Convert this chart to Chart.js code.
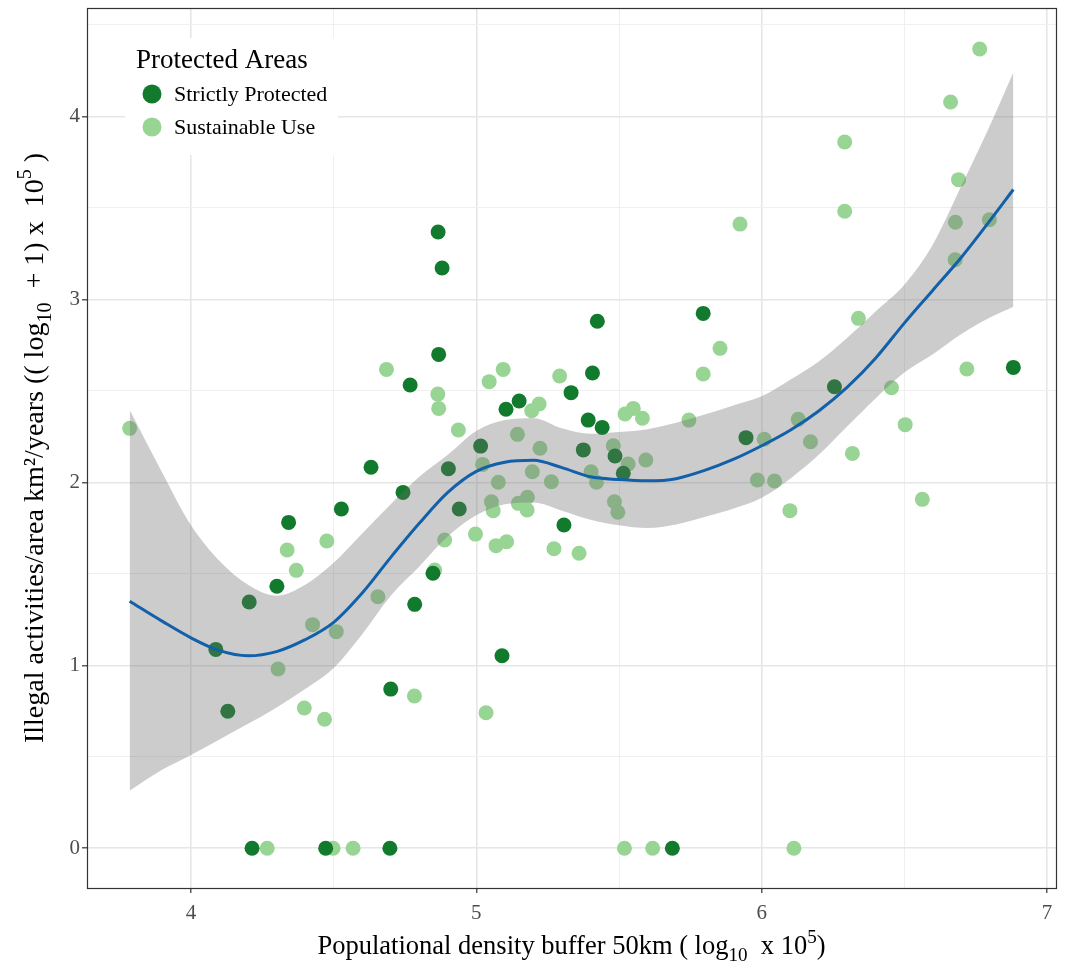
<!DOCTYPE html>
<html>
<head>
<meta charset="utf-8">
<title>Illegal activities vs populational density</title>
<script src="https://cdn.jsdelivr.net/npm/chart.js@4.4.1/dist/chart.umd.min.js"></script>
<style>
  html, body { margin: 0; padding: 0; background: #fff; }
  #wrap { width: 1068px; height: 962px; position: relative; }
</style>
</head>
<body>
<div id="wrap"><canvas id="chart"></canvas></div>
<script>
// --- données ---

// Strictly Protected
const strictX = [4.866, 4.880, 4.868, 4.768, 4.631, 4.743, 4.902, 4.527, 4.342, 4.301,
                 4.204, 4.848, 4.784, 4.087, 4.129, 4.700, 4.214, 4.472, 4.697, 5.795,
                 5.424, 5.407, 5.332, 5.150, 5.104, 5.392, 5.441, 5.015, 5.375, 5.486,
                 5.515, 5.945, 4.940, 5.307, 5.090, 5.687, 6.882, 6.255];
const strictY = [3.368, 3.171, 2.699, 2.532, 2.082, 1.945, 2.074, 1.854, 1.781, 1.432,
                 1.346, 1.503, 1.333, 1.087, 0.749, 0.870, 0, 0, 0, 2.923,
                 2.880, 2.597, 2.490, 2.444, 2.399, 2.340, 2.300, 2.198, 2.177, 2.144,
                 2.049, 2.244, 1.854, 1.767, 1.052, 0, 2.628, 2.522];

// Sustainable Use
const sustX = [3.785, 4.685, 4.865, 4.868, 4.476, 4.337, 4.369, 4.655, 4.854, 4.889,
               4.305, 4.426, 4.509, 4.783, 4.397, 4.468, 4.267, 4.498, 4.568, 5.924,
               5.854, 5.795, 5.292, 5.094, 5.045, 5.194, 5.220, 5.521, 5.550, 5.582,
               5.745, 4.937, 5.144, 5.223, 5.480, 5.532, 5.594, 5.022, 5.077, 5.196,
               5.263, 5.402, 5.421, 5.053, 5.059, 5.147, 5.179, 5.178, 5.484, 5.496,
               4.997, 5.069, 5.106, 5.272, 5.360, 5.034, 5.519, 5.618, 6.764, 6.662,
               6.291, 6.291, 6.690, 6.679, 6.798, 6.678, 6.339, 6.719, 6.455, 6.503,
               6.318, 6.128, 6.171, 6.009, 5.985, 6.045, 6.099, 6.563, 6.113];
const sustY = [2.295, 2.617, 2.482, 2.404, 1.679, 1.630, 1.519, 1.375, 1.521, 1.685,
               0.980, 1.222, 1.184, 0.832, 0.767, 0.705, 0, 0, 0, 3.411,
               2.732, 2.592, 2.581, 2.617, 2.550, 2.391, 2.428, 2.373, 2.404, 2.350,
               2.340, 2.286, 2.262, 2.186, 2.200, 2.100, 2.122, 2.098, 2.000, 2.058,
               2.003, 2.058, 2.000, 1.894, 1.845, 1.885, 1.918, 1.849, 1.894, 1.836,
               1.717, 1.654, 1.675, 1.637, 1.612, 0.741, 0, 0, 4.368, 4.078,
               3.860, 3.481, 3.654, 3.421, 3.435, 3.216, 2.896, 2.619, 2.517, 2.315,
               2.158, 2.344, 2.222, 2.235, 2.013, 2.007, 1.845, 1.907, 0];

// courbe lissée (loess) et intervalle de confiance
const fitX = [3.785, 3.9, 4.0, 4.1, 4.2, 4.3, 4.4, 4.5, 4.6, 4.7, 4.8, 4.9, 5.0, 5.1, 5.2, 5.3,
              5.4, 5.5, 5.6, 5.7, 5.8, 5.9, 6.0, 6.1, 6.2, 6.3, 6.4, 6.5, 6.6, 6.7, 6.8, 6.882];
const fitY = [1.350, 1.240, 1.150, 1.080, 1.052, 1.075, 1.140, 1.235, 1.395, 1.590, 1.776, 1.945,
              2.060, 2.110, 2.120, 2.080, 2.030, 2.015, 2.008, 2.020, 2.065, 2.125, 2.200, 2.285,
              2.390, 2.520, 2.680, 2.870, 3.050, 3.230, 3.430, 3.600];
const fitUpper = [2.395, 2.050, 1.765, 1.570, 1.440, 1.380, 1.440, 1.560, 1.720, 1.880, 2.030, 2.150,
                  2.280, 2.340, 2.350, 2.295, 2.265, 2.275, 2.290, 2.325, 2.370, 2.420, 2.470, 2.560,
                  2.660, 2.790, 2.935, 3.080, 3.300, 3.620, 3.950, 4.240];
const fitLower = [0.315, 0.430, 0.510, 0.595, 0.680, 0.770, 0.870, 0.985, 1.170, 1.380, 1.540, 1.705,
                  1.820, 1.880, 1.890, 1.845, 1.795, 1.765, 1.750, 1.770, 1.810, 1.855, 1.915, 2.020,
                  2.150, 2.306, 2.460, 2.600, 2.700, 2.810, 2.900, 2.960];

// graduations principales (les demi-unités servent de grille mineure)
const xTickLabels = [4, 5, 6, 7];
const yTickLabels = [0, 1, 2, 3, 4];

const legendTitle = 'Protected Areas';
const seriesNames = ['Strictly Protected', 'Sustainable Use'];

// --- styles ---
const DARK = '#127a2c';
const LIGHT = '#98d594';
const FONT = '"Liberation Serif", "Times New Roman", serif';

const toPoints = (xs, ys) => xs.map((x, i) => ({ x: x, y: ys[i] }));
const isMajor = (v, list) => list.some(t => Math.abs(t - v) < 1e-6);

// texte avec indices / exposants
function drawRich(ctx, parts, x, y, size, rotate) {
    ctx.save();
    ctx.translate(x, y);
    if (rotate) ctx.rotate(-Math.PI / 2);
    let total = 0;
    parts.forEach(p => {
        ctx.font = `${p.s ? size * 0.72 : size}px ${FONT}`;
        p.w = ctx.measureText(p.t).width;
        total += p.w;
    });
    let cx = -total / 2;
    ctx.textAlign = 'left';
    ctx.textBaseline = 'alphabetic';
    ctx.fillStyle = '#000';
    parts.forEach(p => {
        ctx.font = `${p.s ? size * 0.72 : size}px ${FONT}`;
        const dy = p.s === 'sub' ? size * 0.28 : (p.s === 'sup' ? -size * 0.42 : 0);
        ctx.fillText(p.t, cx, dy);
        cx += p.w;
    });
    ctx.restore();
}

const xTitle = [
    { t: 'Populational density buffer 50km ( log' }, { t: '10', s: 'sub' },
    { t: '  x 10' }, { t: '5', s: 'sup' }, { t: ')' }
];
const yTitle = [
    { t: 'Illegal activities/area km²/years (( log' }, { t: '10', s: 'sub' },
    { t: '  + 1) x  10' }, { t: '5', s: 'sup' }, { t: ' )' }
];

const decorPlugin = {
    id: 'decor',
    afterDraw(chart) {
        const ctx = chart.ctx;
        const a = chart.chartArea;

        // cadre du panneau
        ctx.save();
        ctx.strokeStyle = '#333333';
        ctx.lineWidth = 1.2;
        ctx.strokeRect(a.left + 0.5, a.top + 0.5, a.right - a.left, a.bottom - a.top);
        ctx.restore();

        // légende dans le panneau
        const lx = a.left + 38, ly = a.top + 30;
        ctx.save();
        ctx.fillStyle = '#ffffff';
        ctx.fillRect(lx, ly, 213, 117);
        ctx.fillStyle = '#000';
        ctx.textAlign = 'left';
        ctx.textBaseline = 'alphabetic';
        ctx.font = `27px ${FONT}`;
        ctx.fillText(legendTitle, lx + 11, ly + 30);
        const colors = [DARK, LIGHT];
        seriesNames.forEach((name, i) => {
            const cy = ly + 56 + i * 33;
            ctx.beginPath();
            ctx.arc(lx + 27, cy, 9.5, 0, Math.PI * 2);
            ctx.fillStyle = colors[i];
            ctx.fill();
            ctx.fillStyle = '#000';
            ctx.font = `22px ${FONT}`;
            ctx.textBaseline = 'middle';
            ctx.fillText(name, lx + 49, cy + 1);
        });
        ctx.restore();

        // titres des axes
        drawRich(ctx, xTitle, (a.left + a.right) / 2, 954, 26.5, false);
        drawRich(ctx, yTitle, 43, (a.top + a.bottom) / 2, 28, true);
    }
};

const gridColor = list => ctx => (ctx.tick && isMajor(ctx.tick.value, list)) ? '#e6e6e6' : '#efefef';
const gridWidth = list => ctx => (ctx.tick && isMajor(ctx.tick.value, list)) ? 1.6 : 1;
const tickColor = list => ctx => (ctx.tick && isMajor(ctx.tick.value, list)) ? '#333333' : 'rgba(0,0,0,0)';

new Chart(document.getElementById('chart'), {
    type: 'scatter',
    data: {
        datasets: [
            {
                label: 'loess',
                data: toPoints(fitX, fitY),
                showLine: true,
                borderColor: '#1160a9',
                borderWidth: 3,
                pointRadius: 0,
                fill: false,
                cubicInterpolationMode: 'monotone',
                order: 0
            },
            {
                label: 'upper',
                data: toPoints(fitX, fitUpper),
                showLine: true,
                borderColor: 'rgba(0,0,0,0)',
                borderWidth: 0,
                pointRadius: 0,
                backgroundColor: 'rgba(110,110,110,0.35)',
                fill: '+1',
                cubicInterpolationMode: 'monotone',
                order: 1
            },
            {
                label: 'lower',
                data: toPoints(fitX, fitLower),
                showLine: true,
                borderColor: 'rgba(0,0,0,0)',
                borderWidth: 0,
                pointRadius: 0,
                fill: false,
                cubicInterpolationMode: 'monotone',
                order: 1
            },
            {
                label: seriesNames[0],
                data: toPoints(strictX, strictY),
                pointRadius: 7.5,
                pointHoverRadius: 7.5,
                pointBorderWidth: 0,
                backgroundColor: DARK,
                borderColor: DARK,
                order: 2
            },
            {
                label: seriesNames[1],
                data: toPoints(sustX, sustY),
                pointRadius: 7.5,
                pointHoverRadius: 7.5,
                pointBorderWidth: 0,
                backgroundColor: LIGHT,
                borderColor: LIGHT,
                order: 3
            }
        ]
    },
    options: {
        responsive: true,
        maintainAspectRatio: false,
        animation: false,
        layout: { padding: { top: 8, right: 12, left: 0, bottom: 0 } },
        plugins: {
            legend: { display: false },
            tooltip: { enabled: false }
        },
        scales: {
            x: {
                type: 'linear',
                min: 3.6355,
                max: 7.0315,
                afterFit: scale => {
                    scale.height = 74;
                    scale.paddingLeft = 0;
                    scale.paddingRight = 0;
                },
                border: { display: false },
                grid: {
                    color: gridColor(xTickLabels),
                    lineWidth: gridWidth(xTickLabels),
                    tickColor: tickColor(xTickLabels),
                    tickLength: 5,
                    tickWidth: 1.2
                },
                ticks: {
                    stepSize: 0.5,
                    includeBounds: false,
                    maxRotation: 0,
                    autoSkip: false,
                    padding: 8,
                    color: '#4d4d4d',
                    font: { family: FONT, size: 21 },
                    callback: v => isMajor(v, xTickLabels) ? String(Math.round(v)) : ''
                }
            },
            y: {
                type: 'linear',
                min: -0.217,
                max: 4.592,
                afterFit: scale => {
                    scale.width = 87;
                    scale.paddingTop = 0;
                    scale.paddingBottom = 0;
                },
                border: { display: false },
                grid: {
                    color: gridColor(yTickLabels),
                    lineWidth: gridWidth(yTickLabels),
                    tickColor: tickColor(yTickLabels),
                    tickLength: 5,
                    tickWidth: 1.2
                },
                ticks: {
                    stepSize: 0.5,
                    includeBounds: false,
                    autoSkip: false,
                    padding: 2,
                    color: '#4d4d4d',
                    font: { family: FONT, size: 21 },
                    callback: v => isMajor(v, yTickLabels) ? String(Math.round(v)) : ''
                }
            }
        }
    },
    plugins: [decorPlugin]
});
</script>
</body>
</html>
